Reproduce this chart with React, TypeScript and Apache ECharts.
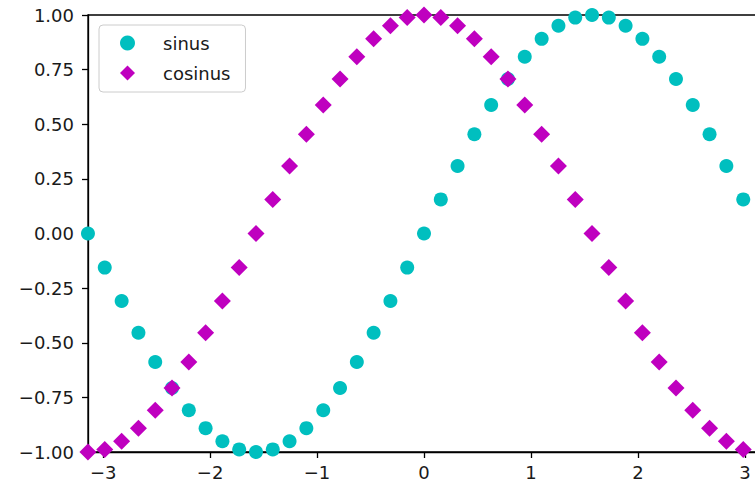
import React, { useEffect, useRef } from "react";
import * as echarts from "echarts";

// Sample positions along x (step of about 0.157, from -π up to just below π)
const xValues = [
  -3.142, -2.985, -2.827, -2.67, -2.513, -2.356, -2.199, -2.042, -1.885, -1.728,
  -1.571, -1.414, -1.257, -1.1, -0.942, -0.785, -0.628, -0.471, -0.314, -0.157,
  0, 0.157, 0.314, 0.471, 0.628, 0.785, 0.942, 1.1, 1.257, 1.414,
  1.571, 1.728, 1.885, 2.042, 2.199, 2.356, 2.513, 2.67, 2.827, 2.985,
];

const sinusValues = [
  0, -0.156, -0.309, -0.454, -0.588, -0.707, -0.809, -0.891, -0.951, -0.988,
  -1, -0.988, -0.951, -0.891, -0.809, -0.707, -0.588, -0.454, -0.309, -0.156,
  0, 0.156, 0.309, 0.454, 0.588, 0.707, 0.809, 0.891, 0.951, 0.988,
  1, 0.988, 0.951, 0.891, 0.809, 0.707, 0.588, 0.454, 0.309, 0.156,
];

const cosinusValues = [
  -1, -0.988, -0.951, -0.891, -0.809, -0.707, -0.588, -0.454, -0.309, -0.156,
  0, 0.156, 0.309, 0.454, 0.588, 0.707, 0.809, 0.891, 0.951, 0.988,
  1, 0.988, 0.951, 0.891, 0.809, 0.707, 0.588, 0.454, 0.309, 0.156,
  0, -0.156, -0.309, -0.454, -0.588, -0.707, -0.809, -0.891, -0.951, -0.988,
];

const xTicks = [-3, -2, -1, 0, 1, 2, 3];
const seriesNames = ["sinus", "cosinus"];

const FONT = "DejaVu Sans";
const CYAN = "#00bfbf";
const MAGENTA = "#bf00bf";
const INK = "#1a1a1a";

const withMinus = (s: string) => s.replace("-", "\u2212");

export default function App() {
  const ref = useRef<HTMLDivElement>(null);

  useEffect(() => {
    if (!ref.current) return;
    const chart = echarts.init(ref.current, undefined, { renderer: "svg" });

    const pairs = (ys: number[]) => xValues.map((x, i) => [x, ys[i]]);

    chart.setOption({
      animation: false,
      backgroundColor: "#ffffff",
      textStyle: { fontFamily: FONT },
      grid: {
        left: 88,
        top: 15,
        width: 672,
        height: 437,
        containLabel: false,
        outerBoundsMode: "none",
        show: true,
        borderColor: "#000000",
        borderWidth: 1.3,
        backgroundColor: "transparent",
      },
      xAxis: {
        type: "value",
        min: -Math.PI,
        max: Math.PI,
        axisLine: { show: true, onZero: false, lineStyle: { color: "#000000", width: 1.3 } },
        axisTick: {
          show: true,
          inside: false,
          length: 6,
          customValues: xTicks,
          lineStyle: { color: "#000000", width: 1.3 },
        },
        axisLabel: {
          show: true,
          customValues: xTicks,
          margin: 11,
          fontSize: 18,
          fontFamily: FONT,
          color: INK,
          formatter: (v: number) => withMinus(String(v)),
        },
        splitLine: { show: false },
      },
      yAxis: {
        type: "value",
        min: -1,
        max: 1,
        interval: 0.25,
        axisLine: { show: true, onZero: false, lineStyle: { color: "#000000", width: 1.3 } },
        axisTick: { show: true, inside: false, length: 6, lineStyle: { color: "#000000", width: 1.3 } },
        axisLabel: {
          show: true,
          margin: 14,
          fontSize: 18,
          fontFamily: FONT,
          color: INK,
          formatter: (v: number) => withMinus(v.toFixed(2)),
        },
        splitLine: { show: false },
      },
      legend: {
        show: true,
        orient: "vertical",
        left: 99,
        top: 25,
        padding: [9, 15, 10, 21],
        itemWidth: 15,
        itemHeight: 15,
        itemGap: 12,
        selectedMode: false,
        backgroundColor: "rgba(255,255,255,0.8)",
        borderColor: "#cccccc",
        borderWidth: 1,
        borderRadius: 4,
        textStyle: {
          fontFamily: FONT,
          fontSize: 18,
          lineHeight: 18,
          color: INK,
          padding: [0, 0, 0, 23],
        },
        data: [
          { name: seriesNames[0], icon: "circle" },
          { name: seriesNames[1], icon: "diamond" },
        ],
      },
      series: [
        {
          name: seriesNames[0],
          type: "scatter",
          symbol: "circle",
          symbolSize: 14,
          clip: true,
          itemStyle: { color: CYAN, opacity: 1 },
          emphasis: { disabled: true },
          data: pairs(sinusValues),
        },
        {
          name: seriesNames[1],
          type: "scatter",
          symbol: "diamond",
          symbolSize: 17,
          clip: true,
          itemStyle: { color: MAGENTA, opacity: 1 },
          emphasis: { disabled: true },
          data: pairs(cosinusValues),
        },
      ],
    });

    return () => chart.dispose();
  }, []);

  return (
    <div
      style={{
        position: "fixed",
        left: 0,
        top: 0,
        width: 755,
        height: 488,
        overflow: "hidden",
        background: "#ffffff",
      }}
    >
      <div ref={ref} style={{ width: 770, height: 488 }} />
    </div>
  );
}
